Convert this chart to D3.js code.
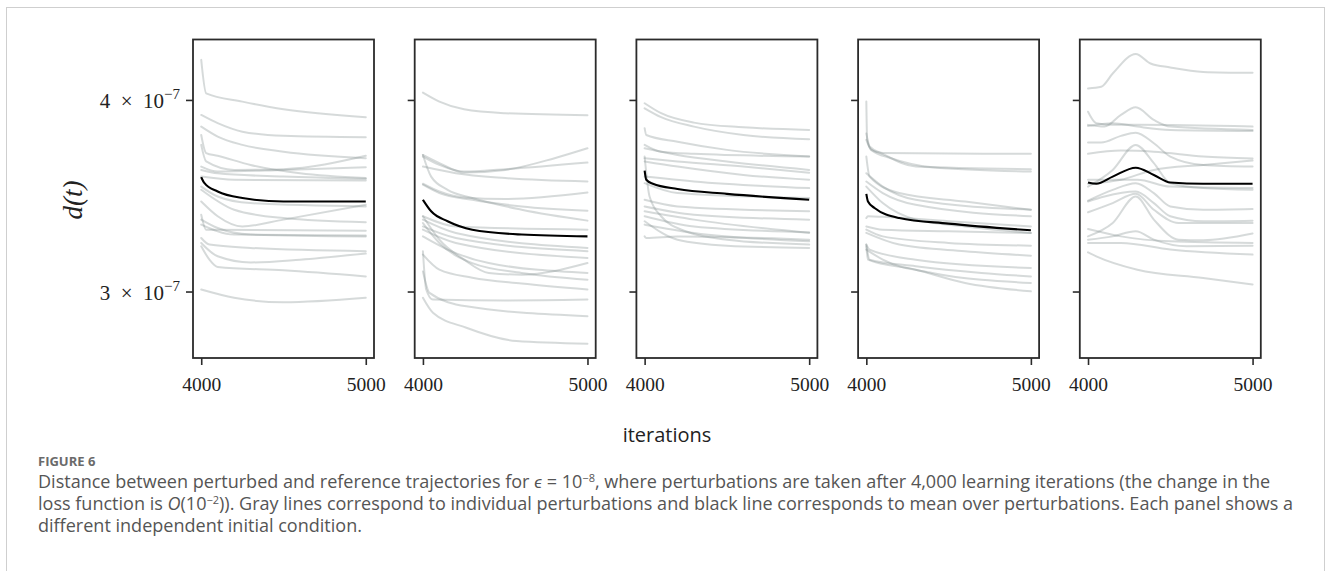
<!DOCTYPE html>
<html><head><meta charset="utf-8">
<script src="https://cdn.jsdelivr.net/npm/d3@7"></script>
<style>
body{margin:0;background:#fff;}
svg{display:block;}
</style></head><body>
<svg id="chart" width="1330" height="571"></svg>
<script>
// ---------- DATA (values in units of 1e-7) ----------
const UNIT = 1e-7;
const xTicks = [4000, 5000];
const yTicks = [3, 4];
const yTickMantissa = ["3", "4"];
const yTickExponent = "−7";
const xLabel = "iterations";
const yLabel = "d(t)";

const p1Mean = [[4000,3.562],[4020,3.530],[4100,3.486],[4250,3.452],[4500,3.434],[5000,3.434]];
const p1Gray = [
  [[4000,4.248],[4030,4.040],[4250,3.990],[4500,3.944],[5000,3.898]],
  [[4000,3.911],[4100,3.863],[4250,3.814],[4500,3.790],[5000,3.782]],
  [[4000,3.843],[4100,3.786],[4250,3.739],[4500,3.701],[5000,3.665]],
  [[4000,3.795],[4030,3.693],[4100,3.678],[4300,3.628],[4600,3.583],[5000,3.557]],
  [[4000,3.739],[4030,3.647],[4200,3.601],[4500,3.605],[5000,3.678]],
  [[4000,3.619],[4100,3.592],[4500,3.601],[5000,3.616]],
  [[4000,3.601],[4100,3.583],[4500,3.565],[5000,3.553]],
  [[4000,3.565],[4200,3.548],[5000,3.544]],
  [[4000,3.512],[4100,3.460],[4300,3.426],[5000,3.409]],
  [[4000,3.495],[4200,3.392],[4500,3.350],[5000,3.329]],
  [[4000,3.434],[4100,3.359],[4250,3.308],[4500,3.342],[5000,3.417]],
  [[4000,3.367],[4030,3.292],[5000,3.287]],
  [[4000,3.342],[4100,3.300],[4300,3.268],[5000,3.259]],
  [[4000,3.317],[4200,3.268],[5000,3.263]],
  [[4000,3.251],[4050,3.219],[4300,3.203],[5000,3.187]],
  [[4000,3.227],[4100,3.163],[4300,3.134],[4600,3.147],[5000,3.176]],
  [[4000,3.211],[4050,3.147],[4100,3.113],[4500,3.097],[5000,3.069]],
  [[4000,3.009],[4200,2.972],[4500,2.952],[5000,2.972]]
];

const p2Mean = [[4000,3.443],[4050,3.384],[4150,3.334],[4300,3.292],[4600,3.268],[5000,3.259]];
const p2Gray = [
  [[4000,4.044],[4100,3.990],[4250,3.944],[4500,3.921],[5000,3.909]],
  [[4000,3.683],[4100,3.638],[4250,3.587],[4500,3.601],[4800,3.665],[5000,3.720]],
  [[4000,3.674],[4100,3.628],[4250,3.592],[4500,3.605],[5000,3.641]],
  [[4000,3.619],[4200,3.583],[4500,3.557],[5000,3.539]],
  [[4000,3.527],[4100,3.486],[4250,3.455],[4500,3.447],[5000,3.481]],
  [[4000,3.522],[4100,3.478],[4300,3.443],[4600,3.409],[5000,3.387]],
  [[4000,3.683],[4050,3.565],[4150,3.495],[4300,3.452],[4600,3.392],[5000,3.337]],
  [[4000,3.359],[4200,3.308],[5000,3.292]],
  [[4000,3.342],[4200,3.276],[5000,3.203]],
  [[4000,3.308],[4200,3.251],[5000,3.187]],
  [[4000,3.292],[4200,3.227],[5000,3.155]],
  [[4000,3.259],[4150,3.195],[4400,3.131],[5000,3.085]],
  [[4000,3.359],[4100,3.243],[4250,3.147],[4400,3.085],[4600,3.077],[5000,3.131]],
  [[4000,3.325],[4100,3.227],[4300,3.131],[4600,3.085],[5000,3.054]],
  [[4000,3.171],[4100,3.100],[4300,3.063],[4600,3.036],[5000,3.009]],
  [[4000,3.187],[4020,3.009],[4060,2.964],[4500,2.960],[5000,2.964]],
  [[4000,3.092],[4040,2.994],[4264,2.934],[5000,2.891]],
  [[4000,2.972],[4061,2.906],[4264,2.841],[4568,2.785],[5000,2.774]]
];

const p3Mean = [[4000,3.597],[4010,3.548],[4050,3.527],[4200,3.499],[4500,3.474],[5000,3.443]];
const p3Gray = [
  [[4000,3.980],[4100,3.921],[4300,3.866],[4600,3.839],[5000,3.824]],
  [[4000,3.950],[4100,3.898],[4300,3.843],[4600,3.795],[5000,3.771]],
  [[4000,3.834],[4010,3.795],[4200,3.757],[4500,3.711],[5000,3.674]],
  [[4000,3.739],[4100,3.701],[4300,3.689],[5000,3.674]],
  [[4000,3.720],[4200,3.683],[4500,3.647],[5000,3.601]],
  [[4000,3.665],[4200,3.647],[4600,3.619],[5000,3.586]],
  [[4000,3.647],[4200,3.619],[4600,3.574],[5000,3.548]],
  [[4000,3.565],[4300,3.539],[5000,3.504]],
  [[4000,3.530],[4200,3.478],[5000,3.452]],
  [[4000,3.443],[4200,3.409],[5000,3.384]],
  [[4000,3.409],[4300,3.367],[5000,3.342]],
  [[4000,3.384],[4300,3.342],[5000,3.276]],
  [[4000,3.359],[4300,3.308],[5000,3.279]],
  [[4000,3.674],[4030,3.460],[4100,3.359],[4250,3.284],[4500,3.243],[5000,3.219]],
  [[4000,3.317],[4300,3.276],[5000,3.235]],
  [[4000,3.259],[4010,3.251],[4200,3.259],[5000,3.243]],
  [[4000,3.334],[4200,3.243],[4500,3.214],[5000,3.203]]
];

const p4Mean = [[4000,3.474],[4010,3.434],[4050,3.401],[4200,3.350],[4500,3.322],[5000,3.289]];
const p4Gray = [
  [[4000,3.990],[4005,3.767],[4030,3.711],[4100,3.693],[5000,3.689]],
  [[4000,3.804],[4020,3.730],[4100,3.689],[4300,3.619],[5000,3.605]],
  [[4000,3.767],[4030,3.711],[4150,3.665],[4400,3.616],[5000,3.592]],
  [[4000,3.674],[4020,3.565],[4200,3.478],[4600,3.434],[5000,3.392]],
  [[4000,3.583],[4100,3.512],[4300,3.443],[5000,3.392]],
  [[4000,3.539],[4100,3.478],[4300,3.417],[5000,3.359]],
  [[4000,3.512],[4100,3.426],[4300,3.342],[4600,3.308],[5000,3.276]],
  [[4000,3.350],[4010,3.359],[4100,3.356],[4500,3.334],[5000,3.308]],
  [[4000,3.308],[4100,3.292],[4500,3.284],[5000,3.276]],
  [[4000,3.292],[4100,3.259],[4500,3.227],[5000,3.214]],
  [[4000,3.276],[4200,3.219],[4600,3.187],[5000,3.166]],
  [[4000,3.219],[4020,3.195],[4300,3.147],[5000,3.108]],
  [[4000,3.219],[4020,3.147],[4300,3.116],[4700,3.085],[5000,3.069]],
  [[4000,3.195],[4100,3.147],[4400,3.085],[5000,3.039]],
  [[4000,3.211],[4010,3.147],[4300,3.100],[4600,3.039],[5000,3.001]]
];

const p5Mean = [[4000,3.534],[4050,3.527],[4150,3.565],[4290,3.613],[4400,3.574],[4500,3.534],[4700,3.527],[5000,3.527]];
const p5Gray = [
  [[4000,4.070],[4080,4.080],[4150,4.162],[4290,4.286],[4380,4.225],[4500,4.200],[4700,4.172],[5000,4.166]],
  [[4000,3.930],[4050,3.863],[4150,3.853],[4300,3.853],[5000,3.843]],
  [[4000,3.853],[4100,3.843],[4200,3.911],[4290,3.956],[4400,3.882],[4500,3.843],[5000,3.824]],
  [[4000,3.847],[4150,3.863],[4300,3.843],[4500,3.824],[5000,3.818]],
  [[4000,3.752],[4080,3.752],[4200,3.790],[4290,3.808],[4400,3.748],[4500,3.674],[4700,3.628],[5000,3.619]],
  [[4000,3.689],[4200,3.707],[4400,3.701],[4700,3.674],[5000,3.663]],
  [[4000,3.512],[4150,3.601],[4290,3.739],[4400,3.638],[4500,3.530],[4700,3.504],[5000,3.495]],
  [[4000,3.527],[4200,3.548],[4400,3.601],[4700,3.628],[5000,3.652]],
  [[4000,3.548],[4150,3.548],[4300,3.548],[4500,3.512],[5000,3.504]],
  [[4000,3.439],[4150,3.495],[4290,3.530],[4400,3.478],[4500,3.409],[4700,3.392],[5000,3.396]],
  [[4000,3.434],[4100,3.460],[4290,3.486],[4400,3.426],[4500,3.359],[4700,3.334],[5000,3.337]],
  [[4000,3.379],[4150,3.426],[4290,3.474],[4400,3.392],[4550,3.325],[5000,3.325]],
  [[4000,3.259],[4150,3.325],[4290,3.460],[4400,3.342],[4550,3.243],[4700,3.240],[5000,3.273]],
  [[4000,3.295],[4200,3.259],[4500,3.235],[5000,3.227]],
  [[4000,3.243],[4150,3.259],[4290,3.284],[4400,3.243],[4600,3.211],[5000,3.214]],
  [[4000,3.227],[4200,3.227],[4500,3.195],[5000,3.171]],
  [[4000,3.182],[4050,3.163],[4300,3.100],[4700,3.062],[5000,3.032]]
];

const panelsGray = [p1Gray, p2Gray, p3Gray, p4Gray, p5Gray];
const panelsMean = [p1Mean, p2Mean, p3Mean, p4Mean, p5Mean];

// ---------- LAYOUT ----------
const svg = d3.select("#chart");
const panelLeft0 = 193, panelStep = 221.7, panelW = 181;
const panelTop = 39.5, panelBottom = 358;
const serif = "'Liberation Serif', 'DejaVu Serif', serif";
const sans = "'Open Sans', Lato, sans-serif";

// figure frame
svg.append("rect").attr("x", 6.5).attr("y", 7.5).attr("width", 1318).attr("height", 640)
  .attr("fill", "none").attr("stroke", "#cfcfcf").attr("stroke-width", 1);

const y = d3.scaleLog().domain([2.715 * UNIT, 4.38 * UNIT]).range([panelBottom, panelTop]);

panelsGray.forEach((grayLines, p) => {
  const left = panelLeft0 + p * panelStep;
  const x = d3.scaleLinear().domain([3950, 5050]).range([left, left + panelW]);
  const g = svg.append("g");
  const clipId = "clip" + p;
  svg.append("clipPath").attr("id", clipId).append("rect")
    .attr("x", left).attr("y", panelTop).attr("width", panelW).attr("height", panelBottom - panelTop);

  const line = d3.line().x(d => x(d[0])).y(d => y(d[1] * UNIT)).curve(d3.curveMonotoneX);
  const lg = g.append("g").attr("clip-path", `url(#${clipId})`);
  lg.selectAll("path.gray").data(grayLines).join("path")
    .attr("class", "gray").attr("d", line)
    .attr("fill", "none").attr("stroke", "#7f8c8d").attr("stroke-opacity", 0.32)
    .attr("stroke-width", 2).attr("stroke-linecap", "round");
  lg.append("path").datum(panelsMean[p]).attr("d", line)
    .attr("fill", "none").attr("stroke", "#000").attr("stroke-width", 2.1);

  // frame
  g.append("rect").attr("x", left).attr("y", panelTop).attr("width", panelW).attr("height", panelBottom - panelTop)
    .attr("fill", "none").attr("stroke", "#2b2b2b").attr("stroke-width", 1.8);

  // x axis
  const xa = g.append("g").attr("transform", `translate(0,${panelBottom})`)
    .call(d3.axisBottom(x).tickValues(xTicks).tickSize(7).tickPadding(12).tickFormat(d3.format("d")));
  xa.select(".domain").remove();
  xa.selectAll("line").attr("stroke", "#2b2b2b").attr("stroke-width", 1.6);
  xa.selectAll("text").attr("font-family", serif).attr("font-size", 19.5).attr("fill", "#222");

  // y axis
  const ya = g.append("g").attr("transform", `translate(${left},0)`)
    .call(d3.axisLeft(y).tickValues(yTicks.map(v => v * UNIT)).tickSize(7).tickPadding(6).tickFormat(""));
  ya.select(".domain").remove();
  ya.selectAll("line").attr("stroke", "#2b2b2b").attr("stroke-width", 1.6);
  if (p === 0) {
    ya.selectAll(".tick text").each(function(d, i) {
      const t = d3.select(this).attr("font-family", serif).attr("font-size", 21).attr("fill", "#222")
        .attr("dy", "0.36em");
      t.text(null);
      t.append("tspan").text(yTickMantissa[i] + "\u2002×\u2002" + "10");
      t.append("tspan").attr("font-size", 15).attr("dy", -9).text(yTickExponent);
    });
  }
});

// axis labels
svg.append("text").attr("x", 667).attr("y", 442).attr("text-anchor", "middle")
  .attr("font-family", "'Open Sans', sans-serif").attr("font-size", 20).attr("fill", "#222").text(xLabel);
svg.append("text").attr("transform", "translate(82,200) rotate(-90)").attr("text-anchor", "middle")
  .attr("font-family", serif).attr("font-style", "italic").attr("font-size", 27).attr("fill", "#222").text(yLabel);

// caption
const cap = svg.append("g").attr("font-family", sans).attr("fill", "#555");
cap.append("text").attr("x", 38).attr("y", 466).attr("font-size", 13).attr("font-weight", "bold")
  .attr("fill", "#6a6a6a").text("FIGURE 6");
const capSize = 16;
const l1 = cap.append("text").attr("x", 38).attr("y", 488).attr("font-size", capSize);
l1.append("tspan").text("Distance between perturbed and reference trajectories for ");
l1.append("tspan").attr("font-style", "italic").text("ϵ");
l1.append("tspan").text(" = 10");
l1.append("tspan").attr("font-size", 11).attr("dy", -6).text("−8");
l1.append("tspan").attr("dy", 6).text(", where perturbations are taken after 4,000 learning iterations (the change in the");
const l2 = cap.append("text").attr("x", 38).attr("y", 510).attr("font-size", capSize);
l2.append("tspan").text("loss function is ");
l2.append("tspan").attr("font-style", "italic").text("O");
l2.append("tspan").text("(10");
l2.append("tspan").attr("font-size", 11).attr("dy", -6).text("−2");
l2.append("tspan").attr("dy", 6).text(")). Gray lines correspond to individual perturbations and black line corresponds to mean over perturbations. Each panel shows a");
const l3 = cap.append("text").attr("x", 38).attr("y", 532).attr("font-size", capSize).text("different independent initial condition.");
// fit caption width to the figure's text column
const w1 = l1.node().getComputedTextLength();
const fitSize = capSize * 1235 / w1;
[l1, l2, l3].forEach(t => t.attr("font-size", fitSize));
</script>
</body></html>
